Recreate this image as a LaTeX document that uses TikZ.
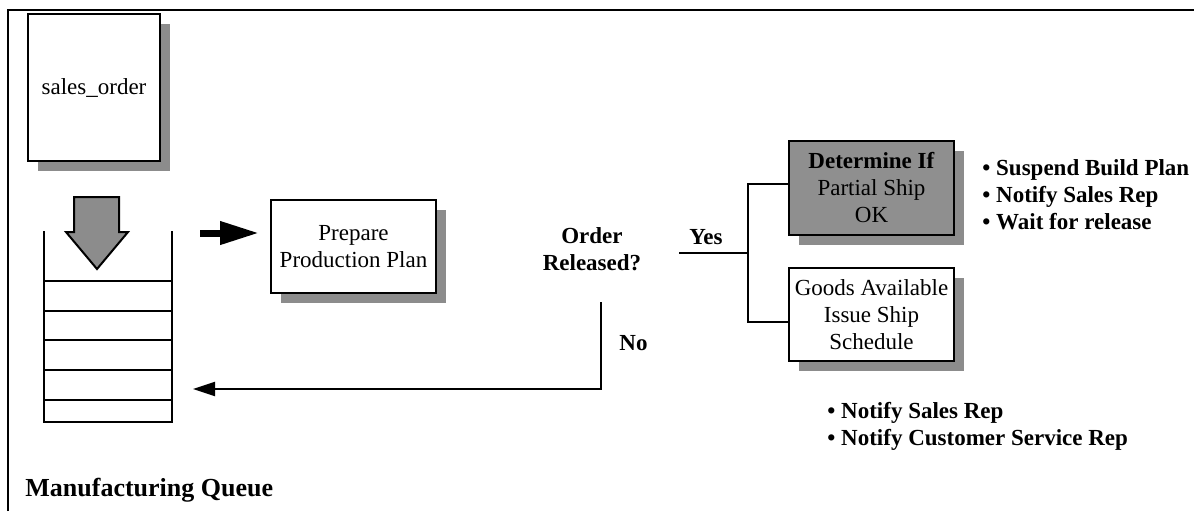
\documentclass[tikz,border=0pt]{standalone}
\usepackage{fontspec}
\setmainfont{Liberation Serif}
\usetikzlibrary{arrows.meta,shadows,calc}
\definecolor{shgray}{RGB}{140,140,140}
\definecolor{boxgray}{RGB}{143,143,143}
\newcommand{\basefont}{\fontsize{11.5}{13.5}\selectfont}
\tikzset{
  box/.style={draw=black, line width=1pt, fill=white, inner sep=0pt, align=center,
    drop shadow={shadow xshift=5pt, shadow yshift=-5pt, fill=shgray, opacity=1}},
  lbl/.style={inner sep=0pt, align=center, font=\basefont\bfseries},
  bullets/.style={inner sep=0pt, align=left, anchor=west, font=\basefont\bfseries},
  conn/.style={line width=1pt},
  qline/.style={line width=1pt},
}
\begin{document}
\begin{tikzpicture}[x=0.5pt, y=-0.5pt, font=\basefont]
\useasboundingbox (0,0) rectangle (1194,511);
% frame
\draw[line width=1.2pt] (8,511) -- (8,10) -- (1194,10);

% sales order
\node[box, minimum width=66pt, minimum height=73.5pt] (sales) at (94,87.5) {sales\_order};

% big down arrow
\draw[line width=1pt, fill=shgray, line join=miter]
  (74,197) -- (119,197) -- (119,232) -- (128,232) -- (97,269) -- (66,232) -- (74,232) -- cycle;

% queue
\draw[qline] (44,231) -- (44,422) -- (172,422) -- (172,231);
\foreach \yy in {281,311,340,370,400}
  \draw[qline] (44,\yy) -- (172,\yy);

% small arrow to prepare
\coordinate (qa) at (200,233);
\coordinate (qb) at (259,233);
\draw[line width=3.5pt, -{Triangle[length=19.5pt,width=11pt]}] (qa) -- (qb);

% prepare
\node[box, minimum width=82.5pt, minimum height=46.5pt] (prep) at (353.5,246.5) {Prepare\\Production Plan};

% decision
\node[lbl] (order) at (592,249.5) {Order\\Released?};
\node[lbl] (no) at (633.5,343) {No};
\node[lbl] (yes) at (706,237) {Yes};

\coordinate (nostart) at (601,302);
\coordinate (noend) at (193,389);
\draw[conn, -{Triangle[length=11pt,width=7pt]}] (nostart) |- (noend);

% yes branch
\node[box, fill=boxgray, minimum width=82.5pt, minimum height=47pt] (det) at (871.5,188) {\textbf{Determine If}\\Partial Ship\\OK};
\node[box, minimum width=82.5pt, minimum height=46.5pt] (goods) at (871.5,314.5) {Goods Available\\Issue Ship\\Schedule};

\coordinate (yesstart) at (679,253);
\coordinate (fork) at (748,253);
\draw[conn] (yesstart) -- (fork);
\draw[conn] ($(det.west)+(0,-4)$) -| (fork) |- ($(goods.west)+(0,7.5)$);

% bullets
\node[bullets] (b1) at (982,194.5) {• Suspend Build Plan\\• Notify Sales Rep\\• Wait for release};
\node[bullets] (b2) at (827,426) {• Notify Sales Rep\\• Notify Customer Service Rep};

% caption
\node[bullets, font=\fontsize{13}{15}\selectfont\bfseries] (cap) at (25,490) {Manufacturing Queue};
\end{tikzpicture}
\end{document}
